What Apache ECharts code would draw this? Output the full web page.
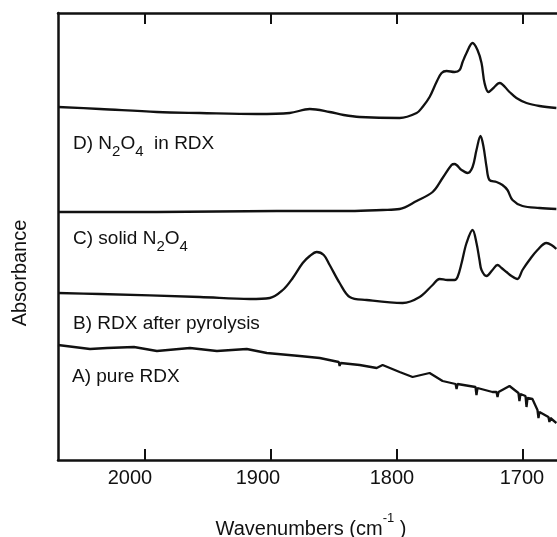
<!DOCTYPE html>
<html><head><meta charset="utf-8">
<script src="https://cdn.jsdelivr.net/npm/echarts@6/dist/echarts.min.js"></script>
<style>html,body{margin:0;padding:0;background:#fff}#c{width:557px;height:537px}</style>
</head><body><div id="c"></div>
<script>
// Wavenumbers (cm-1) and absorbance (arbitrary, offset) for each trace
const wnA  = [2069.0,2043.6,2030.1,2008.7,1990.5,1964.3,1942.9,1919.2,1903.3,1877.2,1861.3,1846.2,1845.5,1844.7,1829.6,1816.1,1811.4,1797.9,1787.6,1774.1,1763.8,1753.5,1752.7,1751.9,1737.7,1736.9,1736.1,1724.2,1721.0,1720.2,1719.4,1710.7,1703.6,1702.8,1702.0,1698.0,1697.2,1696.4,1692.5,1688.5,1687.7,1686.9,1679.8,1679.0,1678.2,1673.5];
const absA = [1.15,1.11,1.12,1.13,1.09,1.12,1.09,1.11,1.07,1.04,1.02,0.98,0.94,0.97,0.95,0.92,0.95,0.88,0.83,0.87,0.79,0.76,0.71,0.76,0.73,0.65,0.72,0.68,0.68,0.63,0.68,0.74,0.67,0.59,0.66,0.64,0.53,0.62,0.61,0.50,0.42,0.48,0.43,0.38,0.42,0.37];

const wnB  = [2069.0,2035.7,1956.4,1916.8,1900.9,1890.6,1882.7,1874.8,1869.2,1863.7,1858.1,1853.4,1845.5,1837.5,1824.0,1795.5,1782.0,1771.7,1766.2,1759.9,1754.3,1751.9,1748.7,1744.8,1740.0,1736.9,1734.5,1732.9,1728.9,1724.2,1720.2,1717.0,1713.1,1709.1,1704.4,1700.4,1694.9,1688.5,1681.4,1677.4,1673.5];
const absB = [1.67,1.66,1.63,1.61,1.62,1.70,1.82,1.97,2.04,2.08,2.05,1.95,1.77,1.63,1.60,1.57,1.63,1.75,1.81,1.80,1.80,1.83,1.97,2.17,2.30,2.17,2.00,1.90,1.84,1.90,1.95,1.92,1.88,1.84,1.81,1.90,2.00,2.10,2.17,2.15,2.11];

const wnC  = [2069.0,1990.5,1895.4,1837.5,1811.4,1797.9,1784.4,1771.7,1763.8,1756.7,1754.3,1748.7,1744.0,1740.0,1736.9,1733.7,1731.3,1728.9,1726.6,1721.0,1716.3,1712.3,1708.3,1700.4,1686.9,1673.5];
const absC = [2.48,2.48,2.49,2.49,2.50,2.51,2.59,2.68,2.82,2.95,2.96,2.90,2.87,2.93,3.10,3.24,3.13,2.93,2.80,2.78,2.75,2.70,2.60,2.54,2.52,2.51];

const wnD  = [2069.0,2035.7,1990.5,1956.4,1911.2,1885.1,1869.2,1853.4,1842.3,1829.6,1797.9,1784.4,1779.7,1774.1,1768.6,1764.6,1760.6,1754.3,1750.3,1747.9,1744.8,1740.0,1736.1,1732.9,1730.5,1727.4,1723.4,1718.6,1710.7,1705.2,1697.2,1686.9,1673.5];
const absD = [3.53,3.51,3.48,3.47,3.46,3.47,3.51,3.48,3.45,3.43,3.42,3.47,3.53,3.63,3.78,3.87,3.89,3.88,3.90,3.98,4.07,4.17,4.10,3.97,3.77,3.68,3.72,3.77,3.68,3.62,3.57,3.54,3.52];

const tickValues = [2000, 1900, 1800, 1700];
const xName = '{n|Wavenumbers (cm}{sup|-1}{n| )}';
const yName = 'Absorbance';
const traceLabels = ['{n|D) N}{s|2}{n|O}{s|4}{n|  in RDX}', '{n|C) solid N}{s|2}{n|O}{s|4}', '{n|B) RDX after pyrolysis}', '{n|A) pure RDX}'];

const FONT = '"Liberation Sans", Arial, sans-serif';
const INK = '#111';
const LW = 2.3;
const pairs = (w, a) => w.map((x, i) => [x, a[i]]);

const chart = echarts.init(document.getElementById('c'), null, {renderer: 'canvas'});

const labelRich = {
  n: {fontFamily: FONT, fontSize: 19, verticalAlign: 'top', fill: INK, color: INK},
  s: {fontFamily: FONT, fontSize: 15, verticalAlign: 'bottom', padding: [10, 0, 0, 0], fill: INK, color: INK}
};
const nameRich = {
  n: {fontFamily: FONT, fontSize: 20, verticalAlign: 'bottom', padding: [7, 0, 0, 0], fill: INK, color: INK},
  sup: {fontFamily: FONT, fontSize: 13, verticalAlign: 'top', fill: INK, color: INK}
};
const labelPos = [[73, 134], [73, 229], [73, 314], [72, 367]];

const tickPad = {2000: 30, 1900: 26, 1800: 10, 1700: 2};

chart.setOption({
  animation: false,
  backgroundColor: '#fff',
  grid: {left: 58, right: 0, top: 13, bottom: 77},
  xAxis: [{
    type: 'value', min: 1673, max: 2069, inverse: true, position: 'bottom',
    axisLine: {show: true, lineStyle: {color: INK, width: 2.5}},
    axisTick: {show: true, inside: true, length: 11, lineStyle: {color: INK, width: 2}, customValues: tickValues},
    axisLabel: {
      show: true, margin: 8, color: INK, fontFamily: FONT, fontSize: 20,
      customValues: tickValues,
      formatter: v => '{p' + tickPad[v] + '|' + v + '}',
      rich: {
        p30: {fontFamily: FONT, fontSize: 20, color: INK, padding: [0, 30, 0, 0]},
        p26: {fontFamily: FONT, fontSize: 20, color: INK, padding: [0, 26, 0, 0]},
        p10: {fontFamily: FONT, fontSize: 20, color: INK, padding: [0, 10, 0, 0]},
        p2: {fontFamily: FONT, fontSize: 20, color: INK, padding: [0, 2, 0, 0]}
      }
    },
    splitLine: {show: false}
  }, {
    type: 'value', min: 1673, max: 2069, inverse: true, position: 'top',
    axisLine: {show: true, lineStyle: {color: INK, width: 2.5}},
    axisTick: {show: true, inside: true, length: 11, lineStyle: {color: INK, width: 2}, customValues: tickValues},
    axisLabel: {show: false},
    splitLine: {show: false}
  }],
  yAxis: {
    type: 'value', min: 0, max: 4.47,
    axisLine: {show: true, lineStyle: {color: INK, width: 2.5}},
    axisTick: {show: false}, axisLabel: {show: false}, splitLine: {show: false}
  },
  series: [
    {name: 'A) pure RDX', type: 'line', data: pairs(wnA, absA), showSymbol: false, smooth: false, lineStyle: {color: INK, width: LW}},
    {name: 'B) RDX after pyrolysis', type: 'line', data: pairs(wnB, absB), showSymbol: false, smooth: 0.35, lineStyle: {color: INK, width: LW}},
    {name: 'C) solid N2O4', type: 'line', data: pairs(wnC, absC), showSymbol: false, smooth: 0.35, lineStyle: {color: INK, width: LW}},
    {name: 'D) N2O4 in RDX', type: 'line', data: pairs(wnD, absD), showSymbol: false, smooth: 0.35, lineStyle: {color: INK, width: LW}}
  ],
  graphic: [
    {type: 'text', x: 20, y: 273, rotation: Math.PI / 2,
     style: {text: yName, x: 0, y: 0, align: 'center', verticalAlign: 'middle', textAlign: 'center', textVerticalAlign: 'middle', fill: INK, font: '20px "Liberation Sans", Arial, sans-serif'}},
    {type: 'text', x: 311, y: 512,
     style: {text: xName, x: 0, y: 0, align: 'center', verticalAlign: 'top', textAlign: 'center', textVerticalAlign: 'top', fill: INK, font: '20px "Liberation Sans", Arial, sans-serif', rich: nameRich}}
  ].concat(traceLabels.map((t, i) => ({
    type: 'text', x: labelPos[i][0], y: labelPos[i][1],
    style: {text: t, x: 0, y: 0, align: 'left', verticalAlign: 'top', textAlign: 'left', textVerticalAlign: 'top', fill: INK, font: '19px "Liberation Sans", Arial, sans-serif', rich: labelRich}
  })))
});
</script>
</body></html>
